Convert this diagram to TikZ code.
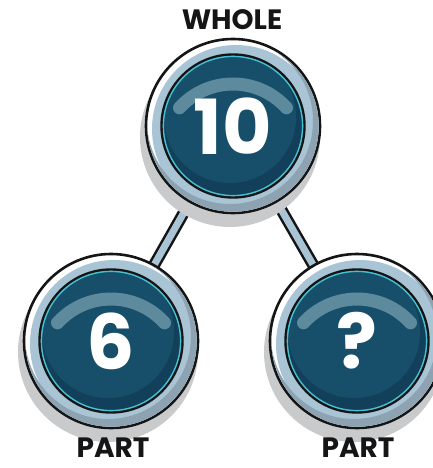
\documentclass[tikz,border=0pt]{standalone}
\usepackage{fontspec}
\setmainfont{Poppins}
\usetikzlibrary{positioning}
\definecolor{inkblack}{HTML}{151515}
\definecolor{rimblue}{HTML}{A9C4D5}
\definecolor{rimdark}{HTML}{8EA3B2}
\definecolor{ballteal}{HTML}{174F6A}
\definecolor{balldark}{HTML}{12405A}
\definecolor{glowcyan}{HTML}{46BFD0}
\definecolor{glare}{HTML}{5E8A9D}
\definecolor{shadowgray}{HTML}{C9CACB}
\pgfdeclarelayer{rodlayer}
\pgfdeclarelayer{balllayer}
\pgfsetlayers{rodlayer,balllayer,main}

\begin{document}
\begin{tikzpicture}[
  x=1pt, y=-1pt,
  ballnode/.style={circle, minimum size=174pt, inner sep=0pt, text=white,
                   font=\bfseries\fontsize{76}{76}\selectfont},
  tag/.style={text=inkblack, inner sep=1pt, font=\bfseries\fontsize{28}{28}\selectfont},
  rod/.style={inkblack, line width=12pt},
  rodcore/.style={rimblue, line width=7pt},
]
  \useasboundingbox (0,0) rectangle (433,468);

  % Balls
  \node[ballnode] (whole) at (233,126) {10};
  \node[ballnode] (partA) at (111,341) {6};
  \node[ballnode] (partB) at (357,341) {?};

  % Labels
  \node[tag] (wholetag) at (232,20) {WHOLE};
  \node[tag] (partAtag) at (113,448) {PART};
  \node[tag] (partBtag) at (358,448) {PART};

  % Rods from whole to parts
  \begin{pgfonlayer}{rodlayer}
    \foreach \p in {partA, partB} {
      \draw[rod] (whole) -- (\p);
      \draw[rodcore] (whole) -- (\p);
    }
  \end{pgfonlayer}

  % Ball art
  \begin{pgfonlayer}{balllayer}
    \foreach \b in {whole, partA, partB} {
      \begin{scope}[shift={(\b)}]
        \fill[shadowgray] (-3,11) circle (90);
        \filldraw[fill=white, draw=inkblack, line width=2.6pt] (0,0) circle (87);
        \begin{scope}
          \clip (0,0) circle (85.7);
          \fill[rimblue] (3,3) circle (84);
          \fill[rimdark, even odd rule] (0,0) circle (90) (-3,-5) circle (83);
        \end{scope}
        \filldraw[fill=balldark, draw=inkblack, line width=2.4pt] (0,0) circle (71.5);
        \begin{scope}
          \clip (0,0) circle (70);
          \fill[ballteal] (-3,-9) circle (66);
        \end{scope}
        \draw[glowcyan, line width=1.4pt] (0,0) circle (69.6);
        \draw[glare, line width=13pt, line cap=round]
          (0,30) ++(222:72) arc[start angle=222, end angle=318, radius=72];
      \end{scope}
    }
  \end{pgfonlayer}
\end{tikzpicture}
\end{document}
